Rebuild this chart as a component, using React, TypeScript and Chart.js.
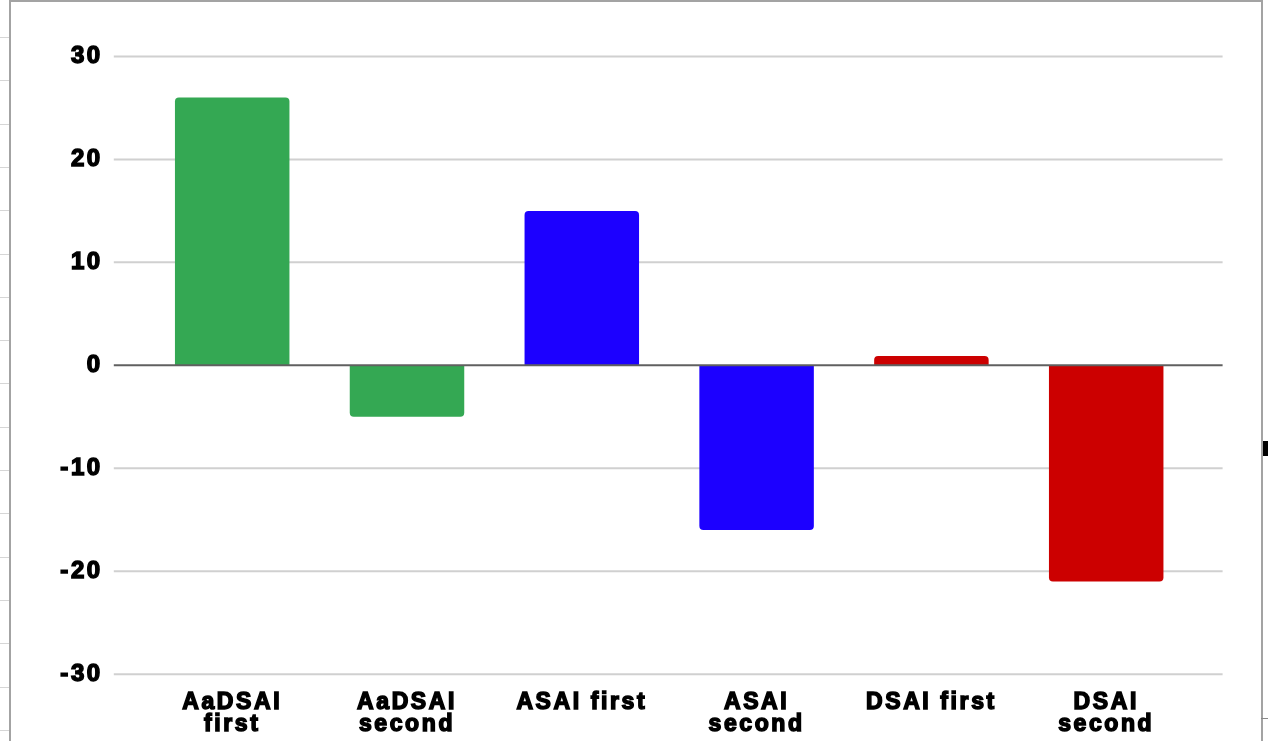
import React, { useEffect, useRef } from "react";
import { Chart, registerables } from "chart.js";

Chart.register(...registerables);

// Category labels (multi-line where the label wraps)
const categories: (string | string[])[] = [
  ["AaDSAI", "first"],
  ["AaDSAI", "second"],
  "ASAI first",
  ["ASAI", "second"],
  "DSAI first",
  ["DSAI", "second"],
];

// Bar values
const values: number[] = [26, -5, 15, -16, 0.9, -21];

// Bar colours per category
const barColors: string[] = ["#34a853", "#34a853", "#1c00ff", "#1c00ff", "#cc0000", "#cc0000"];

// Value axis range and step
const yMin = -30;
const yMax = 30;
const yStep = 10;

const FONT_FAMILY = "'Liberation Sans', Arial, Helvetica, sans-serif";
const LETTER_SPACING = "2.6px";

const W = 1268;
const H = 741;

// Horizontal guide lines that run a little past the plot area on both sides,
// plus a darker baseline at zero drawn over the bars.
const guideLines = {
  id: "guideLines",
  beforeUpdate(chart: any) {
    chart.ctx.letterSpacing = LETTER_SPACING;
  },
  beforeDraw(chart: any) {
    chart.ctx.letterSpacing = LETTER_SPACING;
  },
  beforeDatasetsDraw(chart: any) {
    const { ctx, chartArea, scales } = chart;
    const y = scales.y;
    ctx.save();
    ctx.strokeStyle = "#d0d0d0";
    ctx.lineWidth = 2;
    y.ticks.forEach((t: any) => {
      if (t.value === 0) return;
      const py = y.getPixelForValue(t.value);
      ctx.beginPath();
      ctx.moveTo(chartArea.left - 31, py);
      ctx.lineTo(chartArea.right + 29, py);
      ctx.stroke();
    });
    ctx.restore();
  },
  afterDatasetsDraw(chart: any) {
    const { ctx, chartArea, scales } = chart;
    const py = scales.y.getPixelForValue(0);
    ctx.save();
    ctx.strokeStyle = "#606060";
    ctx.lineWidth = 2;
    ctx.beginPath();
    ctx.moveTo(chartArea.left - 31, py);
    ctx.lineTo(chartArea.right + 29, py);
    ctx.stroke();
    ctx.restore();
  },
};

function BarChart() {
  const canvasRef = useRef<HTMLCanvasElement | null>(null);

  useEffect(() => {
    if (!canvasRef.current) return;
    const chart = new Chart(canvasRef.current, {
      type: "bar",
      data: {
        labels: categories,
        datasets: [
          {
            data: values,
            backgroundColor: barColors,
            borderWidth: 0,
            borderRadius: 4,
            borderSkipped: "start",
            categoryPercentage: 1,
            barPercentage: 0.655,
          },
        ],
      },
      options: {
        responsive: false,
        animation: false,
        devicePixelRatio: 1,
        layout: { autoPadding: false, padding: { top: 54.3, bottom: 0, left: 0, right: 74.4 } },
        plugins: {
          legend: { display: false },
          tooltip: { enabled: false },
          title: { display: false },
        },
        scales: {
          x: {
            offset: true,
            grid: { display: false, drawTicks: false },
            border: { display: false },
            ticks: {
              color: "#000",
              textStrokeColor: "#000",
              textStrokeWidth: 1.5,
              autoSkip: false,
              maxRotation: 0,
              minRotation: 0,
              padding: 18,
              font: { family: FONT_FAMILY, size: 23, weight: "bold", lineHeight: "21.5px" },
            },
            afterFit(scale: any) {
              scale.height = 66.7;
            },
          },
          y: {
            min: yMin,
            max: yMax,
            grid: { display: false, drawTicks: false },
            border: { display: false },
            ticks: {
              stepSize: yStep,
              color: "#000",
              textStrokeColor: "#000",
              textStrokeWidth: 1.5,
              padding: 42,
              font: { family: FONT_FAMILY, size: 24, weight: "bold" },
            },
            afterFit(scale: any) {
              scale.width = 144.8;
            },
          },
        },
      },
      plugins: [guideLines],
    });
    return () => chart.destroy();
  }, []);

  return <canvas ref={canvasRef} width={W} height={H} style={{ position: "absolute", left: 0, top: 0 }} />;
}

export default function App() {
  const rowLines = [];
  for (let k = 0; k < 17; k++) {
    rowLines.push(
      <div
        key={k}
        style={{ position: "absolute", left: 0, top: 37 + k * 43.3, width: 9, height: 1, background: "#d6d6d6" }}
      />
    );
  }
  return (
    <div
      style={{ position: "fixed", left: 0, top: 0, width: W, height: H, background: "#fff", overflow: "hidden" }}
    >
      {rowLines}
      <div
        style={{
          position: "absolute",
          left: 9,
          top: 0,
          width: 1254,
          height: 800,
          border: "2px solid #a3a3a3",
          boxSizing: "border-box",
        }}
      />
      <div style={{ position: "absolute", left: 1263, top: 441, width: 5, height: 15, background: "#000" }} />
      <div style={{ position: "absolute", left: 1261, top: 718, width: 7, height: 1, background: "#888" }} />
      <BarChart />
    </div>
  );
}
